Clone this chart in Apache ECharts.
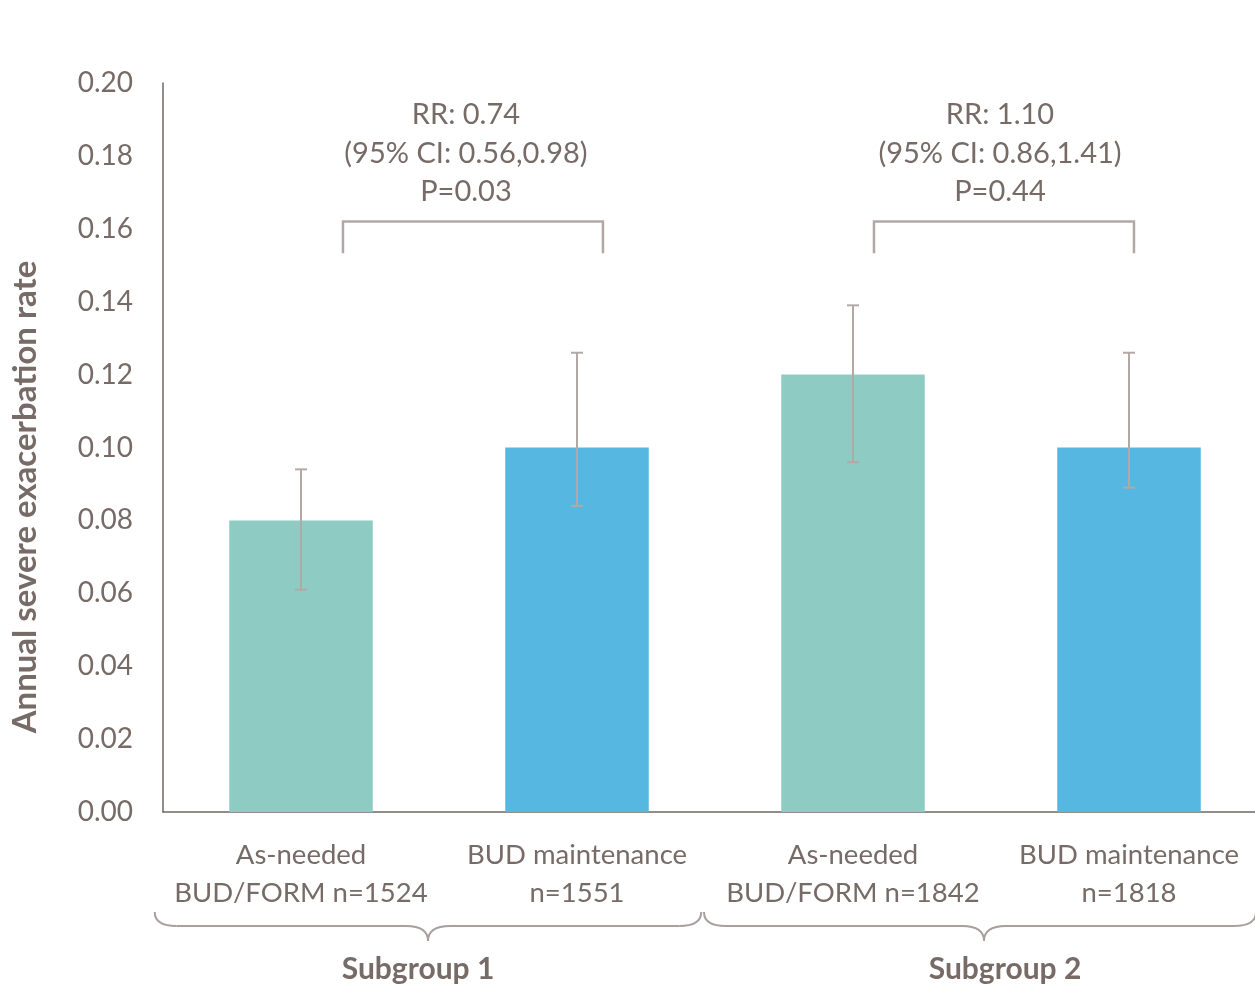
<!DOCTYPE html>
<html>
<head>
<meta charset="utf-8">
<script src="https://cdn.jsdelivr.net/npm/echarts@6/dist/echarts.min.js"></script>
<style>
  html, body { margin: 0; padding: 0; background: #ffffff; }
  #chart { width: 1255px; height: 987px; }
</style>
</head>
<body>
<div id="chart"></div>
<script>
// Annual severe exacerbation rate by treatment arm, two subgroups
const categories = [
  'As-needed\nBUD/FORM n=1524',
  'BUD maintenance\nn=1551',
  'As-needed\nBUD/FORM n=1842',
  'BUD maintenance\nn=1818'
];
const rates = [0.08, 0.10, 0.12, 0.10];
const ciLower = [0.061, 0.084, 0.096, 0.089];
const ciUpper = [0.094, 0.126, 0.139, 0.126];
const barColors = ['#8ecbc2', '#56b8e0', '#8ecbc2', '#56b8e0'];
const subgroups = ['Subgroup 1', 'Subgroup 2'];
const comparisons = [
  'RR: 0.74\n(95% CI: 0.56,0.98)\nP=0.03',
  'RR: 1.10\n(95% CI: 0.86,1.41)\nP=0.44'
];
const yTicks = { min: 0, max: 0.2, interval: 0.02 };

const FONT = 'Lato, "Noto Sans", sans-serif';
const TEXT = '#766b67';
const AXIS = '#6f6766';
const LIGHT = '#b2a9a7';

const chart = echarts.init(document.getElementById('chart'), null, { renderer: 'canvas' });

chart.setOption({
  animation: false,
  backgroundColor: '#ffffff',
  grid: {
    left: 163, top: 83, bottom: 175, width: 1104,
    containLabel: false, outerBoundsMode: 'none'
  },
  xAxis: {
    type: 'category',
    data: categories,
    axisLine: { lineStyle: { color: AXIS, width: 1.5 } },
    axisTick: { show: false },
    axisLabel: {
      color: TEXT, fontFamily: FONT, fontSize: 27.5, lineHeight: 38,
      margin: 24, interval: 0
    }
  },
  yAxis: {
    type: 'value',
    min: yTicks.min, max: yTicks.max, interval: yTicks.interval,
    axisLine: { show: true, lineStyle: { color: AXIS, width: 1.5 } },
    axisTick: { show: false },
    splitLine: { show: false },
    axisLabel: {
      color: TEXT, fontFamily: FONT, fontSize: 28, margin: 30,
      formatter: v => v.toFixed(2)
    }
  },
  series: [
    {
      type: 'bar',
      barWidth: '52%',
      data: rates.map((v, i) => ({ value: v, itemStyle: { color: barColors[i] } }))
    },
    {
      type: 'custom',
      z: 5,
      data: rates.map((v, i) => [i, ciLower[i], ciUpper[i]]),
      renderItem: (params, api) => {
        const lo = api.coord([api.value(0), api.value(1)]);
        const hi = api.coord([api.value(0), api.value(2)]);
        const cap = 6;
        const style = { stroke: LIGHT, lineWidth: 2 };
        return {
          type: 'group',
          children: [
            { type: 'line', shape: { x1: lo[0], y1: lo[1], x2: hi[0], y2: hi[1] }, style },
            { type: 'line', shape: { x1: hi[0] - cap, y1: hi[1], x2: hi[0] + cap, y2: hi[1] }, style },
            { type: 'line', shape: { x1: lo[0] - cap, y1: lo[1], x2: lo[0] + cap, y2: lo[1] }, style }
          ]
        };
      }
    }
  ]
});

// Comparison brackets, annotations, subgroup braces and the y-axis title
function decorate() {
  const c = [0, 1, 2, 3].map(i => chart.convertToPixel({ xAxisIndex: 0 }, i));
  const bw = c[1] - c[0];
  const yTop = chart.convertToPixel({ yAxisIndex: 0 }, 0.162);
  const yEnd = chart.convertToPixel({ yAxisIndex: 0 }, 0.1533);
  const brackets = [
    [c[0] + 0.152 * bw, c[1] + 0.094 * bw],
    [c[2] + 0.076 * bw, c[3] + 0.018 * bw]
  ];
  const els = [];
  brackets.forEach((b, k) => {
    els.push({
      type: 'polyline',
      shape: { points: [[b[0], yEnd], [b[0], yTop], [b[1], yTop], [b[1], yEnd]] },
      style: { stroke: LIGHT, lineWidth: 2.5, fill: null }
    });
    els.push({
      type: 'text',
      x: (b[0] + b[1]) / 2 - 7 + k * 3,
      y: yTop - 126,
      style: {
        text: comparisons[k], fill: TEXT, font: '29px ' + FONT,
        lineHeight: 38.5, align: 'center', verticalAlign: 'top'
      }
    });
  });

  // curly braces grouping the categories under each subgroup
  const axisY = chart.convertToPixel({ yAxisIndex: 0 }, 0);
  const yt = axisY + 100, ym = axisY + 114, yb = axisY + 129;
  const braces = [
    { x0: c[0] - 0.53 * bw, x1: c[1] + 0.45 * bw, xt: (c[0] + c[1]) / 2 - 11 },
    { x0: c[2] - 0.54 * bw, x1: c[3] + 0.46 * bw, xt: (c[2] + c[3]) / 2 - 7 }
  ];
  const braceStyle = { stroke: '#a9a09e', lineWidth: 2, fill: null };
  const r = 22;
  braces.forEach((b, k) => {
    els.push(
      { type: 'bezierCurve', shape: { x1: b.x0, y1: yt, cpx1: b.x0, cpy1: ym, x2: b.x0 + r, y2: ym }, style: braceStyle },
      { type: 'line', shape: { x1: b.x0 + r, y1: ym, x2: b.xt - r, y2: ym }, style: braceStyle },
      { type: 'bezierCurve', shape: { x1: b.xt - r, y1: ym, cpx1: b.xt, cpy1: ym, x2: b.xt, y2: yb }, style: braceStyle },
      { type: 'bezierCurve', shape: { x1: b.xt, y1: yb, cpx1: b.xt, cpy1: ym, x2: b.xt + r, y2: ym }, style: braceStyle },
      { type: 'line', shape: { x1: b.xt + r, y1: ym, x2: b.x1 - r, y2: ym }, style: braceStyle },
      { type: 'bezierCurve', shape: { x1: b.x1 - r, y1: ym, cpx1: b.x1, cpy1: ym, x2: b.x1, y2: yt }, style: braceStyle }
    );
    els.push({
      type: 'text',
      x: b.xt - 10 + k * 31,
      y: axisY + 157,
      style: {
        text: subgroups[k], fill: TEXT, font: 'bold 30px ' + FONT,
        align: 'center', verticalAlign: 'middle'
      }
    });
  });

  els.push({
    type: 'text',
    x: 25, y: 497, rotation: Math.PI / 2,
    style: {
      text: 'Annual severe exacerbation rate', fill: TEXT,
      font: 'bold 33px ' + FONT, align: 'center', verticalAlign: 'middle'
    }
  });

  chart.setOption({ graphic: { elements: els } });
}
decorate();
</script>
</body>
</html>
